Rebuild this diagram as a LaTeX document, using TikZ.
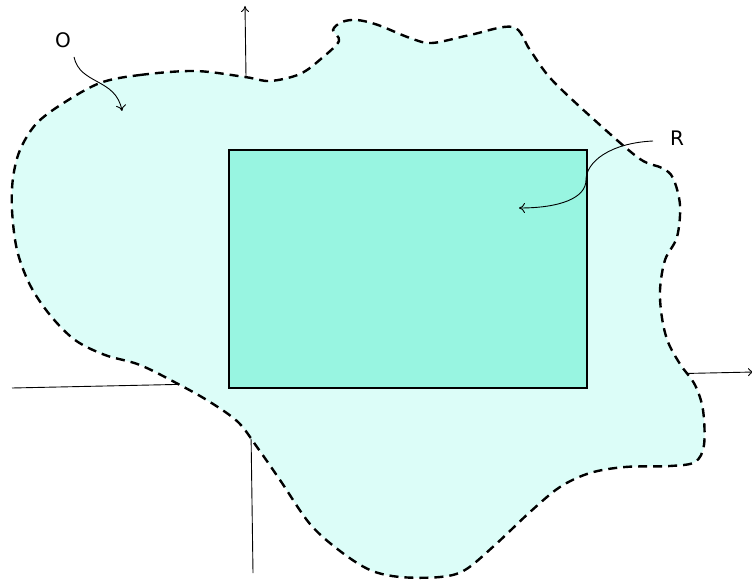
\documentclass[tikz,border=0pt]{standalone}
\usepackage{fontspec}
\setmainfont{DejaVu Sans}
\usetikzlibrary{arrows.meta}
\definecolor{blobfill}{HTML}{DCFDF8}
\definecolor{rectfill}{HTML}{98F5E1}
\tikzset{
  axisline/.style={line width=0.9pt,-{To[length=6pt,width=8pt]}},
  blobline/.style={line width=2.4pt,dash pattern=on 9pt off 6pt,fill=blobfill},
  regionbox/.style={draw,line width=1.8pt,fill=rectfill,minimum width=358pt,minimum height=238pt,inner sep=0pt,anchor=north west},
  lbl/.style={font=\fontsize{20pt}{24pt}\selectfont,inner sep=0pt},
  pointer/.style={line width=0.9pt,-{To[length=6pt,width=10pt]}}
}
\begin{document}
\begin{tikzpicture}[x=1pt,y=-1pt]
\useasboundingbox (0,0) rectangle (752,580);
% axes (behind)
\coordinate (ya) at (253,573);
\coordinate (yb) at (245,6);
\coordinate (xa) at (12,388);
\coordinate (xb) at (754,372);
\draw[axisline] (ya) -- (yb);
\draw[axisline] (xa) -- (xb);
% blob
\draw[blobline] plot[smooth cycle,tension=0.55] coordinates {
 (100,83) (140,75) (195,71) (245,77) (270,81) (300,74) (322,58) (339,41)
 (333,30) (342,22) (357,20) (378,25) (410,38) (432,43) (470,35) (513,27)
 (530,50) (552,80) (600,125) (640,159) (662,168) (673,178) (680,205) (677,237)
 (665,260) (660,290) (662,318) (668,342) (680,364) (695,385) (703,410) (704,445)
 (695,462) (670,466) (625,467) (590,473) (560,487) (530,512) (495,545)
 (465,570) (440,577) (400,577) (370,570) (340,551) (310,524) (280,480)
 (257,447) (238,422) (210,402) (180,385) (140,365) (105,355) (75,340)
 (50,315) (30,285) (17,250) (12,210) (13,178) (20,150) (36,124) (62,104)
};
% rectangle
\node[regionbox] (rect) at (228,149) {};
% labels
\node[lbl] (lo) at (63,40) {O};
\node[lbl] (lr) at (677,138) {R};
\coordinate (ot) at (122,111);
\coordinate (rt) at (519,208);
\draw[pointer] (74,57) .. controls (80,85) and (116,78) .. (ot);
\draw[pointer] (653,141) .. controls (610,143) and (586,162) .. (586,180)
  .. controls (586,198) and (560,208) .. (rt);
\end{tikzpicture}
\end{document}
